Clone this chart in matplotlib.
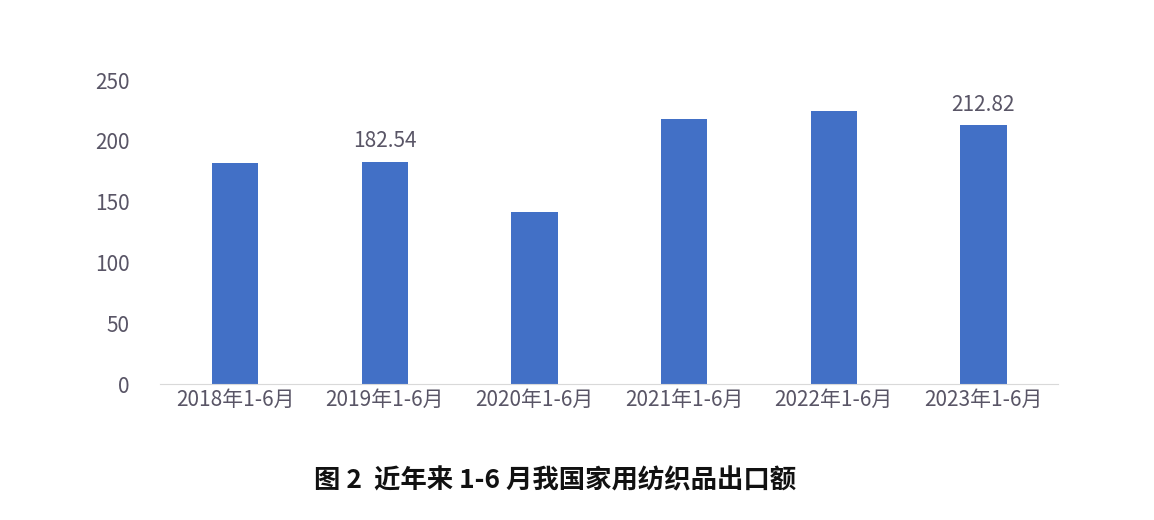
import matplotlib.pyplot as plt

plt.rcParams['font.family'] = ['Noto Sans CJK SC', 'DejaVu Sans']

years = ["2018年1-6月", "2019年1-6月", "2020年1-6月", "2021年1-6月", "2022年1-6月", "2023年1-6月"]
values = [181.8, 182.54, 141.4, 218.0, 224.5, 212.82]
labeled = {1: "182.54", 5: "212.82"}

fig = plt.figure(figsize=(11.54, 5.2), dpi=100)
ax = fig.add_axes([0.139, 0.2615, 0.778, 0.5845])

ax.bar(range(len(years)), values, width=0.31, color="#4270C6")
for i, txt in labeled.items():
    ax.text(i, values[i] + 8, txt, ha="center", va="bottom", fontsize=15, color="#595566")

ax.set_xlim(-0.5, 5.5)
ax.set_ylim(0, 250)
ax.set_yticks(range(0, 251, 50))
ax.set_xticks(range(len(years)))
ax.set_xticklabels(years)
ax.tick_params(axis="both", length=0, labelsize=15, labelcolor="#595566")
ax.tick_params(axis="y", pad=22)
for s in ["top", "right", "left"]:
    ax.spines[s].set_visible(False)
ax.spines["bottom"].set_color("#D9D9D9")

fig.text(0.481, 0.06, "图 2  近年来 1-6 月我国家用纺织品出口额", ha="center",
         fontsize=19, fontweight="bold", color="#111111")

fig.savefig("out.png", dpi=100)
